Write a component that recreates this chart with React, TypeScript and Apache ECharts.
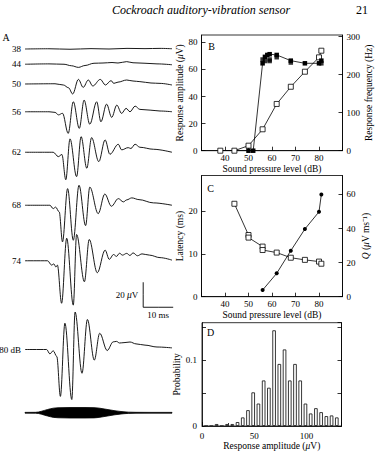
import React, { useEffect, useRef } from 'react';
import * as echarts from 'echarts';

const SERIF = '"Liberation Serif", "Times New Roman", serif';

// ---------- Panel A: responses at increasing sound pressure level ----------
const levelLabels = ['38', '44', '50', '56', '62', '68', '74', '80 dB'];

// Each trace: [time (ms), deflection (μV)] at its turning points
const trace38 = [[0, 0], [8, 0.2], [15, -0.2], [22, 0.3], [28, 0], [34, 0.5], [40, 0.3], [45, 0.5], [49, 0.2]];
const trace44 = [[0, 0], [8, 0.3], [13, 0], [15.5, -1.2], [17.8, -2.5], [20, -1], [23, 0.8], [26, 1], [29, 1.4], [31, 1], [33.9, 2.1], [36, 1.2], [40, 0.8], [44, 0.3], [49, -0.4]];
const trace50 = [[0, 0], [10, 0.2], [12.8, -0.8], [14.5, -3], [15.9, -8], [17.8, 3.7], [19.4, -2.7], [21.1, 3.2], [22.6, -1.6], [25.1, 3.7], [26.8, -0.8], [28.7, 2.7], [29.6, 0.5], [31, 1.5], [33.9, 3.2], [36, 2.4], [38.3, 1.9], [42, 0.8], [45, 0.5], [49, -0.8]];
const trace56 = [[0, 0], [8, 0], [10, -0.5], [11.2, -2.5], [12.5, -1.2], [14.4, -17.3], [16.1, 8], [18.1, -13.3], [19.7, 9.3], [21.6, -10], [23.9, 8], [25.3, -8], [27.2, 6.1], [28.9, -4.5], [30.6, 5.3], [32.2, -1.3], [33.7, 2.7], [35, 0], [36.7, 4.5], [38.3, 1.9], [41.7, 1.3], [45, 0.6], [49, 0]];
const trace62 = [[0, 0], [9.4, 0], [11.1, -3.5], [12.3, -1.8], [13.6, -22], [15, 10.7], [17.2, -19.5], [18.7, 12.5], [20.6, -12.8], [22.2, 11.7], [24.6, -7.5], [26.7, 9.9], [28.3, -1.6], [31.1, 6.4], [32.2, 1.9], [34.4, 3.7], [35.3, 3], [36.7, 6.4], [38.3, 4], [42.8, 2.4], [49, 0]];
const trace68 = [[0, 0], [8.3, 0], [9.4, -2.7], [10.2, -1.5], [11.4, -5.3], [12.5, -29.3], [14.2, 13.3], [16.1, -28], [18, 16], [20.2, -16.3], [21.6, 14.5], [24.4, -6.7], [26.6, 9], [28.8, -0.8], [31.1, 5.3], [32.8, 2.7], [33.9, 4.3], [35.6, 5.9], [38, 4.5], [42.8, 1.9], [49, 0]];
const trace74 = [[0, 0], [7.5, 0], [8.9, -3.5], [9.6, -2.5], [10.3, -5], [10.8, -3.5], [12.2, -34], [13.9, 18], [16.1, -35.5], [17.2, 21], [19.8, -16.8], [21.4, 17], [24.1, -9.6], [26.7, 8.5], [28.1, 1.1], [29.5, 5], [30.5, 3.5], [31.5, 6], [32.5, 4.5], [33.9, 5.9], [35, 4.2], [36, 6.3], [37.5, 4], [39, 5.5], [41.5, 4.5], [45, 2.5], [49, 0.5]];
const trace80 = [[0, 0], [7.2, 0], [8.3, -3.5], [9.4, -1], [10.6, -5.6], [11.8, -37.5], [13.3, 21], [15.6, -40], [16.7, 30], [19, -19], [20.8, 24], [23.1, -8.5], [24.9, 13], [27.4, -0.8], [29.4, 6.1], [30.5, 6.5], [31.5, 5.2], [33, 5.5], [35, 6], [37, 4.5], [40, 3.5], [44, 2], [49, 1.3]];
const traces = [trace38, trace44, trace50, trace56, trace62, trace68, trace74, trace80];

// Tone-burst stimulus: time (ms) and half amplitude of its envelope (display μV)
const stimulusTimes = [0, 3.5, 4.5, 5.5, 6.5, 7.5, 8.5, 9.5, 11, 15, 20, 23, 24, 25, 26, 27, 28, 29, 30, 31, 32, 33, 34.5, 37, 42, 49];
const stimulusHalfAmp = [0.3, 0.35, 0.6, 1.2, 1.9, 2.6, 3.2, 3.7, 4.0, 4.2, 4.2, 4.1, 3.9, 3.6, 3.2, 2.8, 2.4, 2.0, 1.6, 1.3, 1.0, 0.75, 0.5, 0.35, 0.3, 0.3];

// Calibration bar sizes
const scaleBarTime = 10; // ms
const scaleBarVolt = 20; // μV

// ---------- Panel B ----------
const ampLevels = [38, 44, 50, 56, 62, 68, 74, 80, 81];
const ampValues = [0, 0, 3.7, 15.8, 34.5, 47.2, 58.3, 68.9, 73.8];
const freqLevels = [50, 52, 56, 57, 58, 59, 62, 68, 74, 80, 81];
const freqValues = [0, 0, 230, 247, 252, 254, 252, 237, 230, 230, 237];
const freqRepeatLevels = [56, 57, 59, 59, 62, 68, 81];
const freqRepeatValues = [240, 236, 240, 236, 246, 232, 230];

// ---------- Panel C ----------
const latLevels = [44, 50, 50, 56, 56, 62, 68, 74, 80, 81];
const latValues = [21.7, 14.4, 13.8, 11.7, 10.9, 10.3, 9.1, 8.6, 8.2, 7.7];
const qLevels = [56, 62, 68, 74, 80, 81];
const qValues = [3.9, 13.7, 27, 39.7, 49.8, 60];

// ---------- Panel D ----------
const histCenters = [4, 9, 14, 19, 24, 29, 34, 39, 44, 49, 54, 59, 64, 69, 74, 79, 84, 89, 94, 99, 104, 109, 114, 119, 124, 129];
const histValues = [0, 0, 0.003, 0, 0.003, 0.003, 0.006, 0.013, 0.024, 0.051, 0.034, 0.069, 0.058, 0.145, 0.094, 0.116, 0.069, 0.094, 0.069, 0.034, 0.019, 0.027, 0.021, 0.015, 0.016, 0.013];

// Vertical placement of each trace on panel A's shared display axis (μV)
const traceOffsets = [302.8, 290.6, 274.8, 252.6, 220.2, 177.8, 133.4, 62.4];
const stimulusOffset = 11.8;
const scaleBarOrigin = [39.4, 96.2];

const zip = (a: number[], b: number[]) => a.map((v, i) => [v, b[i]]);

const BLACK = '#000';
const tickFont = { fontFamily: SERIF, fontSize: 9, color: BLACK };
const nameFont = { fontFamily: SERIF, fontSize: 9.5, color: BLACK };
const rich = {
  i: { fontFamily: SERIF, fontSize: 9.5, fontStyle: 'italic', color: BLACK },
};

function frameAxisBase() {
  return {
    axisLine: { show: true, lineStyle: { color: BLACK, width: 0.8 } },
    axisTick: { show: true, inside: true, length: 4, lineStyle: { color: BLACK, width: 0.8 } },
    splitLine: { show: false },
  };
}

const onlyBetween = (lo: number, hi: number) => (v: number) => (v >= lo && v <= hi ? String(v) : '');

export default function App() {
  const ref = useRef<HTMLDivElement>(null);

  useEffect(() => {
    if (!ref.current) return;
    const chart = echarts.init(ref.current, undefined, { renderer: 'svg' });

    const traceSeries = traces.map((tr, i) => ({
      type: 'line',
      xAxisIndex: 0,
      yAxisIndex: 0,
      smooth: 0.35,
      smoothMonotone: 'x',
      symbol: 'circle',
      symbolSize: 0.01,
      showSymbol: true,
      silent: true,
      lineStyle: { color: BLACK, width: 0.9 },
      itemStyle: { color: BLACK },
      data: tr.map((p, j) =>
        j === 0
          ? {
              value: [p[0], p[1] + traceOffsets[i]],
              label: {
                show: true,
                position: 'left',
                distance: 4,
                formatter: levelLabels[i],
                ...tickFont,
              },
            }
          : [p[0], p[1] + traceOffsets[i]]
      ),
    }));

    const [sx, sy] = scaleBarOrigin;
    const scaleSeries = {
      type: 'line',
      xAxisIndex: 0,
      yAxisIndex: 0,
      symbol: 'circle',
      symbolSize: 0.01,
      showSymbol: true,
      silent: true,
      lineStyle: { color: BLACK, width: 0.9 },
      itemStyle: { color: BLACK },
      data: [
        [sx, sy + scaleBarVolt],
        {
          value: [sx, sy + scaleBarVolt / 2],
          label: {
            show: true,
            position: 'left',
            distance: 5,
            formatter: `${scaleBarVolt} {i|μ}V`,
            ...tickFont,
            rich,
          },
        },
        [sx, sy],
        {
          value: [sx + scaleBarTime / 2, sy],
          label: {
            show: true,
            position: 'bottom',
            distance: 3,
            formatter: `${scaleBarTime} ms`,
            ...tickFont,
          },
        },
        [sx + scaleBarTime, sy],
      ],
    };

    // Stimulus envelope drawn as one filled band through the panel's scales
    const stimulusSeries = {
      type: 'custom',
      xAxisIndex: 0,
      yAxisIndex: 0,
      silent: true,
      data: stimulusTimes.map((t, i) => [t, stimulusHalfAmp[i]]),
      encode: { x: 0, y: 1 },
      renderItem: (params: any, api: any) => {
        if (params.dataIndex !== 0) return null;
        const upper = stimulusTimes.map((t, i) => api.coord([t, stimulusOffset + stimulusHalfAmp[i]]));
        const lower = stimulusTimes.map((t, i) => api.coord([t, stimulusOffset - stimulusHalfAmp[i]])).reverse();
        return {
          type: 'polygon',
          shape: { points: [...upper, ...lower] },
          style: { fill: BLACK, stroke: BLACK, lineWidth: 0.8 },
        };
      },
    };

    const openSquare = {
      symbol: 'rect',
      symbolSize: 5,
      itemStyle: { color: '#fff', borderColor: BLACK, borderWidth: 0.8 },
      lineStyle: { color: BLACK, width: 0.8 },
    };

    const gridCommon = {
      show: true,
      borderColor: BLACK,
      borderWidth: 0.8,
      backgroundColor: 'transparent',
      outerBoundsMode: 'none',
      containLabel: false,
    };

    const splAxis = (gridIndex: number) => ({
      type: 'value',
      gridIndex,
      min: 30,
      max: 90,
      interval: 10,
      name: 'Sound pressure level (dB)',
      nameLocation: 'middle',
      nameGap: 11,
      nameTextStyle: nameFont,
      axisLabel: { ...tickFont, margin: 3, formatter: onlyBetween(40, 80) },
      ...frameAxisBase(),
    });

    const option = {
      animation: false,
      backgroundColor: '#fff',
      textStyle: { fontFamily: SERIF },
      grid: [
        { ...gridCommon, show: false, left: 25, top: 40, width: 148.5, height: 387.5 },
        { ...gridCommon, left: 201.5, top: 35, width: 141, height: 115.7 },
        { ...gridCommon, left: 201.5, top: 175.5, width: 141, height: 121.2 },
        { ...gridCommon, left: 202, top: 322.7, width: 139.5, height: 103.3 },
      ],
      xAxis: [
        { type: 'value', gridIndex: 0, min: 0, max: 49.5, show: false },
        splAxis(1),
        splAxis(2),
        {
          type: 'value',
          gridIndex: 3,
          min: 0,
          max: 133.5,
          interval: 50,
          name: 'Response amplitude ({i|μ}V)',
          nameLocation: 'middle',
          nameGap: 15,
          nameTextStyle: { ...nameFont, rich },
          axisLabel: { ...tickFont, margin: 5, formatter: onlyBetween(0, 100) },
          minorTick: { show: true, splitNumber: 2, length: 3, lineStyle: { color: BLACK, width: 0.8 } },
          ...frameAxisBase(),
        },
      ],
      yAxis: [
        { type: 'value', gridIndex: 0, min: 0, max: 310, show: false },
        {
          type: 'value',
          gridIndex: 1,
          min: 0,
          max: 85.4,
          interval: 20,
          name: 'Response amplitude ({i|μ}V)',
          nameLocation: 'middle',
          nameGap: 17,
          nameTextStyle: { ...nameFont, rich },
          axisLabel: { ...tickFont, margin: 4, showMaxLabel: false, formatter: onlyBetween(0, 80) },
          ...frameAxisBase(),
        },
        {
          type: 'value',
          gridIndex: 1,
          position: 'right',
          min: 0,
          max: 304.5,
          interval: 100,
          name: 'Response frequency (Hz)',
          nameLocation: 'middle',
          nameGap: 18,
          nameTextStyle: nameFont,
          axisLabel: { ...tickFont, margin: 4, showMaxLabel: false, formatter: onlyBetween(0, 300) },
          ...frameAxisBase(),
        },
        {
          type: 'value',
          gridIndex: 2,
          min: 0,
          max: 28.3,
          interval: 10,
          name: 'Latency (ms)',
          nameLocation: 'middle',
          nameGap: 17,
          nameTextStyle: nameFont,
          axisLabel: { ...tickFont, margin: 4, showMaxLabel: false, formatter: onlyBetween(0, 20) },
          ...frameAxisBase(),
        },
        {
          type: 'value',
          gridIndex: 2,
          position: 'right',
          min: 0,
          max: 71.1,
          interval: 20,
          name: '{i|Q} ({i|μ}V ms⁻¹)',
          nameLocation: 'middle',
          nameGap: 18,
          nameTextStyle: { ...nameFont, rich },
          axisLabel: { ...tickFont, margin: 4, showMaxLabel: false, formatter: onlyBetween(0, 60) },
          ...frameAxisBase(),
        },
        {
          type: 'value',
          gridIndex: 3,
          min: 0,
          max: 0.1565,
          interval: 0.05,
          name: 'Probability',
          nameLocation: 'middle',
          nameGap: 19,
          nameTextStyle: nameFont,
          axisLabel: {
            ...tickFont,
            margin: 5,
            showMaxLabel: false,
            formatter: (v: number) => (Math.abs(v) < 1e-9 ? '0' : Math.abs(v - 0.1) < 1e-9 ? '0.1' : ''),
          },
          ...frameAxisBase(),
        },
        {
          type: 'value',
          gridIndex: 3,
          position: 'right',
          min: 0,
          max: 0.1565,
          interval: 0.05,
          axisLabel: { show: false },
          ...frameAxisBase(),
        },
      ],
      series: [
        ...traceSeries,
        stimulusSeries,
        scaleSeries,
        // B: response amplitude (open) and response frequency (filled)
        { type: 'line', xAxisIndex: 1, yAxisIndex: 1, data: zip(ampLevels, ampValues), ...openSquare, z: 3 },
        {
          type: 'line',
          xAxisIndex: 1,
          yAxisIndex: 2,
          data: zip(freqLevels, freqValues),
          symbol: 'rect',
          symbolSize: 4.5,
          itemStyle: { color: BLACK },
          lineStyle: { color: BLACK, width: 0.8 },
        },
        {
          type: 'scatter',
          xAxisIndex: 1,
          yAxisIndex: 2,
          data: zip(freqRepeatLevels, freqRepeatValues),
          symbol: 'rect',
          symbolSize: 4.5,
          itemStyle: { color: BLACK },
        },
        // C: latency (open) and Q (filled)
        { type: 'line', xAxisIndex: 2, yAxisIndex: 3, data: zip(latLevels, latValues), ...openSquare, z: 3 },
        {
          type: 'line',
          xAxisIndex: 2,
          yAxisIndex: 4,
          data: zip(qLevels, qValues),
          symbol: 'circle',
          symbolSize: 4,
          itemStyle: { color: BLACK },
          lineStyle: { color: BLACK, width: 0.8 },
        },
        // D: distribution of response amplitudes
        {
          type: 'bar',
          xAxisIndex: 3,
          yAxisIndex: 5,
          data: zip(histCenters, histValues),
          barWidth: 3.6,
          itemStyle: { color: '#fff', borderColor: '#222', borderWidth: 0.9 },
        },
      ],
      graphic: [
        {
          type: 'text',
          x: 201,
          y: 10,
          style: { text: 'Cockroach auditory-vibration sensor', font: `italic 12px ${SERIF}`, fill: BLACK, align: 'center', verticalAlign: 'middle' },
        },
        { type: 'text', x: 368, y: 10, style: { text: '21', font: `12px ${SERIF}`, fill: BLACK, align: 'right', verticalAlign: 'middle' } },
        { type: 'text', x: 6, y: 37, style: { text: 'A', font: `10px ${SERIF}`, fill: BLACK, align: 'center', verticalAlign: 'middle' } },
        { type: 'text', x: 211.5, y: 46, style: { text: 'B', font: `10px ${SERIF}`, fill: BLACK, align: 'center', verticalAlign: 'middle' } },
        { type: 'text', x: 210.5, y: 188, style: { text: 'C', font: `10px ${SERIF}`, fill: BLACK, align: 'center', verticalAlign: 'middle' } },
        { type: 'text', x: 210.5, y: 332.5, style: { text: 'D', font: `10px ${SERIF}`, fill: BLACK, align: 'center', verticalAlign: 'middle' } },
      ],
    };

    chart.setOption(option as any);
    return () => chart.dispose();
  }, []);

  return <div ref={ref} style={{ position: 'fixed', left: 0, top: 0, width: 375, height: 458 }} />;
}
